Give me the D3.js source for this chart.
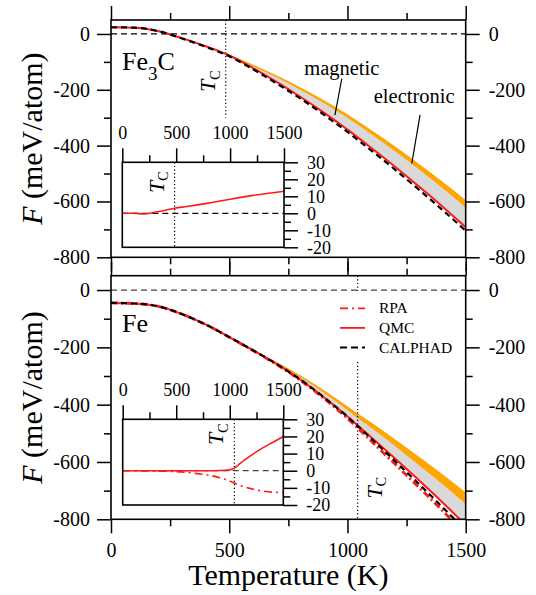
<!DOCTYPE html>
<html>
<head>
<meta charset="utf-8">
<title>Energie libre Fe3C / Fe</title>
<script src="https://cdn.jsdelivr.net/npm/d3@7"></script>
<style>
  body { margin: 0; background: white; }
  svg, svg text { font-family: "Liberation Serif", "Times New Roman", "Nimbus Roman", "DejaVu Serif", serif; }
</style>
</head>
<body>
<div class="fig"></div>
<script>
// Paramètres de la figure
const width = 536;
const height = 595;
const font = '"Liberation Serif", "Times New Roman", "Nimbus Roman", "DejaVu Serif", serif';

// Fe3C (panneau du haut), F en meV/atom
const fe3cT = [0, 100, 200, 300, 400, 485, 600, 700, 800, 900, 1000, 1100, 1200, 1300, 1400, 1500];
const fe3cCalphad = [24, 22.5, 10.3, -16, -46, -74, -126, -177, -231, -289, -351, -417, -485, -556, -629, -705];
const fe3cQmc = [24, 22.5, 10, -15, -43.8, -71, -122, -172, -225, -281.8, -342.7, -407.7, -474.6, -544.7, -616.8, -692];
const fe3cMag = [24, 22.5, 10, -15, -43.8, -71, -114, -153, -198, -245.8, -298.7, -356.7, -417.6, -481.7, -548.8, -620];
const fe3cElec = [24, 22.5, 10, -15, -43.8, -71, -112, -150, -193, -238.8, -289.7, -345.7, -403.6, -465.7, -529.8, -597];
const fe3cTc = 485;

// encart Fe3C : QMC - CALPHAD
const fe3cDiffT = [0, 100, 200, 300, 400, 485, 600, 800, 1000, 1200, 1500];
const fe3cDiffQmc = [0, 0, -0.4, 0.6, 1.8, 3, 4, 6, 8.3, 10.4, 13];

// Fe (panneau du bas)
const feT = [0, 100, 200, 300, 400, 500, 600, 700, 800, 900, 1000, 1043, 1100, 1200, 1300, 1400, 1500];
const feCalphad = [-45, -47, -57, -84, -120, -164, -210, -258, -312, -374, -442, -474, -518, -596, -675, -756, -840];
const feQmc = [-45, -47, -57, -84, -120, -164, -210, -258, -312, -373.9, -441.5, -472.5, -513.5, -587, -662, -739.5, -820];
const feRpa = [-45, -47, -57, -84.1, -120.3, -164.5, -211, -259.7, -314.5, -378, -448, -481.2, -526.7, -606.5, -686.8, -768.5, -852.7];
const feMag = [-45, -47, -57, -84, -120, -164, -210, -254, -302, -356.9, -417.5, -444.5, -478.5, -542, -608, -674.5, -745];
const feElec = [-45, -47, -57, -84, -120, -164, -210, -253, -299, -350.9, -407.5, -432.5, -463.5, -522, -582, -643.5, -708];
const feTc = 1043;

// encart Fe : QMC - CALPHAD et RPA - CALPHAD
const feDiffT = [0, 400, 500, 600, 700, 800, 900, 1000, 1043, 1100, 1200, 1300, 1400, 1500];
const feDiffQmc = [0, 0, 0, 0, 0, 0, 0.1, 0.5, 1.5, 4.5, 9, 13, 16.5, 20];
const feDiffRpa = [0, -0.3, -0.5, -1, -1.7, -2.5, -4, -6, -7.2, -8.7, -10.5, -11.8, -12.5, -12.7];

// graduations
const tickT = [0, 500, 1000, 1500];
const minorT = [250, 750, 1250];
const tickF = [0, -200, -400, -600, -800];
const minorF = [-100, -300, -500, -700];
const tickD = [30, 20, 10, 0, -10, -20];
const minorD = [25, 15, 5, -5, -15];
const legendLabels = ['RPA', 'QMC', 'CALPHAD'];

const svg = d3.select('.fig').append('svg')
  .attr('width', width)
  .attr('height', height);

const x = d3.scaleLinear().domain([0, 1500]).range([111, 465.7]);

function styleAxis(g, size) {
  g.attr('font-family', null);
  g.select('.domain').remove();
  g.selectAll('line').attr('stroke', 'black').attr('stroke-width', 1.5);
  g.selectAll('text')
    .attr('font-size', size)
    .attr('fill', 'black');
}

function lineOf(xs, sx, sy, ys) {
  return d3.line()
    .x((d, i) => sx(xs[i]))
    .y((d, i) => sy(ys[i]))
    .curve(d3.curveMonotoneX)(xs);
}

function areaOf(xs, sx, sy, lo, hi) {
  return d3.area()
    .x((d, i) => sx(xs[i]))
    .y0((d, i) => sy(lo[i]))
    .y1((d, i) => sy(hi[i]))
    .curve(d3.curveMonotoneX)(xs);
}

function addTc(g, px, py, size) {
  const t = g.append('text')
    .attr('transform', `translate(${px},${py}) rotate(-90)`)
    .attr('font-size', size);
  t.append('tspan').attr('font-style', 'italic').text('T');
  t.append('tspan').attr('font-size', size * 0.64).attr('dy', size * 0.22).text('C');
}

function drawPanel(p) {
  const y = d3.scaleLinear().domain([-800, 50]).range([p.bottom, p.top]);
  const g = svg.append('g');

  g.append('clipPath').attr('id', 'clip-' + p.id)
    .append('rect')
      .attr('x', x(0)).attr('y', p.top)
      .attr('width', x(1500) - x(0)).attr('height', p.bottom - p.top);

  const plot = g.append('g').attr('clip-path', `url(#clip-${p.id})`);

  // contribution magnétique (gris) et électronique (orange)
  plot.append('path')
    .attr('d', areaOf(p.T, x, y, p.qmc, p.mag))
    .attr('fill', '#d9d9d9');
  plot.append('path')
    .attr('d', areaOf(p.T, x, y, p.mag, p.elec))
    .attr('fill', '#ffa500')
    .attr('stroke', '#ffa500')
    .attr('stroke-width', 1);

  // ligne Tc
  plot.append('line')
    .attr('x1', x(p.tc)).attr('x2', x(p.tc))
    .attr('y1', y(50)).attr('y2', y(p.tcEnd))
    .attr('stroke', 'black').attr('stroke-width', 1.2)
    .attr('stroke-dasharray', '1.2,2.4');

  if (p.legend) {
    g.append('rect')
      .attr('x', 336).attr('y', y(10) + 4)
      .attr('width', 124).attr('height', y(-245) - y(10) - 4)
      .attr('fill', 'white');
  }

  plot.append('line')
    .attr('x1', x(0)).attr('x2', x(1500))
    .attr('y1', y(0)).attr('y2', y(0))
    .attr('stroke', p.zeroColor).attr('stroke-width', 1.3)
    .attr('stroke-dasharray', '6,4');

  if (p.rpa) {
    plot.append('path')
      .attr('d', lineOf(p.T, x, y, p.rpa))
      .attr('fill', 'none').attr('stroke', '#ff1a1a')
      .attr('stroke-width', 2.8).attr('stroke-dasharray', '7,3,2,3');
  }
  plot.append('path')
    .attr('d', lineOf(p.T, x, y, p.qmc))
    .attr('fill', 'none').attr('stroke', '#ff1a1a').attr('stroke-width', 2);
  plot.append('path')
    .attr('d', lineOf(p.T, x, y, p.calphad))
    .attr('fill', 'none').attr('stroke', 'black')
    .attr('stroke-width', 2.2).attr('stroke-dasharray', '6,4');

  g.append('rect')
    .attr('x', x(0)).attr('y', p.top)
    .attr('width', x(1500) - x(0)).attr('height', p.bottom - p.top)
    .attr('fill', 'none').attr('stroke', 'black').attr('stroke-width', 1.6);

  // axes
  const fmt = d => String(d);
  g.append('g').attr('transform', `translate(${x(0)},0)`)
    .call(d3.axisLeft(y).tickValues(tickF).tickSize(14).tickPadding(7).tickFormat(fmt))
    .call(s => styleAxis(s, 20));
  g.append('g').attr('transform', `translate(${x(0)},0)`)
    .call(d3.axisLeft(y).tickValues(minorF).tickSize(7).tickFormat(''))
    .call(s => styleAxis(s, 20));
  g.append('g').attr('transform', `translate(${x(1500)},0)`)
    .call(d3.axisRight(y).tickValues(tickF).tickSize(14).tickPadding(9).tickFormat(fmt))
    .call(s => styleAxis(s, 20));
  g.append('g').attr('transform', `translate(${x(1500)},0)`)
    .call(d3.axisRight(y).tickValues(minorF).tickSize(7).tickFormat(''))
    .call(s => styleAxis(s, 20));
  g.append('g').attr('transform', `translate(0,${p.top})`)
    .call(d3.axisTop(x).tickValues(tickT).tickSize(14).tickFormat(''))
    .call(s => styleAxis(s, 20));
  g.append('g').attr('transform', `translate(0,${p.top})`)
    .call(d3.axisTop(x).tickValues(minorT).tickSize(7).tickFormat(''))
    .call(s => styleAxis(s, 20));
  g.append('g').attr('transform', `translate(0,${p.bottom})`)
    .call(d3.axisBottom(x).tickValues(tickT).tickSize(14).tickPadding(10)
      .tickFormat(p.xLabels ? fmt : ''))
    .call(s => styleAxis(s, 20));
  g.append('g').attr('transform', `translate(0,${p.bottom})`)
    .call(d3.axisBottom(x).tickValues(minorT).tickSize(7).tickFormat(''))
    .call(s => styleAxis(s, 20));

  // titre de l'axe vertical
  g.append('text')
    .attr('transform', `translate(42,${(p.top + p.bottom) / 2}) rotate(-90)`)
    .attr('text-anchor', 'middle')
    .attr('font-size', 30)
    .call(t => {
      t.append('tspan').attr('font-style', 'italic').text('F');
      t.append('tspan').text(' (meV/atom)');
    });

  // nom du composé
  const name = g.append('text')
    .attr('x', 122).attr('y', y(p.nameF))
    .attr('font-size', 26);
  name.append('tspan').text('Fe');
  if (p.sub) {
    name.append('tspan').attr('font-size', 19).attr('dy', 10).text(p.sub);
    name.append('tspan').attr('dy', -10).text('C');
  }

  addTc(g, x(p.tc) + p.tcDx, y(p.tcLabelF), 22);

  return y;
}

function drawInset(p) {
  const ix = d3.scaleLinear().domain([0, 1500]).range([p.left, p.right]);
  const iy = d3.scaleLinear().domain([-20, 30]).range([p.bottom, p.top]);
  const g = svg.append('g');

  g.append('rect')
    .attr('x', p.left).attr('y', p.top)
    .attr('width', p.right - p.left).attr('height', p.bottom - p.top)
    .attr('fill', 'white');

  g.append('line')
    .attr('x1', ix(p.tc)).attr('x2', ix(p.tc))
    .attr('y1', p.top).attr('y2', p.bottom)
    .attr('stroke', 'black').attr('stroke-width', 1.2)
    .attr('stroke-dasharray', '1.2,2.4');

  g.append('line')
    .attr('x1', ix(0)).attr('x2', ix(1500))
    .attr('y1', iy(0)).attr('y2', iy(0))
    .attr('stroke', p.zeroColor).attr('stroke-width', 1.3)
    .attr('stroke-dasharray', '6,4');

  if (p.rpa) {
    g.append('path')
      .attr('d', lineOf(p.T, ix, iy, p.rpa))
      .attr('fill', 'none').attr('stroke', '#ff1a1a')
      .attr('stroke-width', 1.6).attr('stroke-dasharray', '8,4,2,4');
  }
  g.append('path')
    .attr('d', lineOf(p.T, ix, iy, p.qmc))
    .attr('fill', 'none').attr('stroke', '#ff1a1a').attr('stroke-width', 1.6);

  g.append('rect')
    .attr('x', p.left).attr('y', p.top)
    .attr('width', p.right - p.left).attr('height', p.bottom - p.top)
    .attr('fill', 'none').attr('stroke', 'black').attr('stroke-width', 1.6);

  const fmt = d => String(d);
  g.append('g').attr('transform', `translate(0,${p.top})`)
    .call(d3.axisTop(ix).tickValues(tickT).tickSize(14).tickPadding(9).tickFormat(fmt))
    .call(s => styleAxis(s, 18));
  g.append('g').attr('transform', `translate(0,${p.top})`)
    .call(d3.axisTop(ix).tickValues(minorT).tickSize(7).tickFormat(''))
    .call(s => styleAxis(s, 18));
  g.append('g').attr('transform', `translate(${p.right},0)`)
    .call(d3.axisRight(iy).tickValues(tickD).tickSize(14).tickPadding(9).tickFormat(fmt))
    .call(s => styleAxis(s, 18));
  g.append('g').attr('transform', `translate(${p.right},0)`)
    .call(d3.axisRight(iy).tickValues(minorD).tickSize(7).tickFormat(''))
    .call(s => styleAxis(s, 18));

  addTc(g, ix(p.tc) - 11, iy(p.tcLabelD), 22);
}

// panneau Fe3C
const yTop = drawPanel({
  id: 'fe3c', top: 20, bottom: 257.3,
  T: fe3cT, qmc: fe3cQmc, calphad: fe3cCalphad, mag: fe3cMag, elec: fe3cElec,
  tc: fe3cTc, tcEnd: -300, tcDx: -11, tcLabelF: -208,
  zeroColor: 'black', nameF: -130, sub: '3', xLabels: false
});

// annotations magnetic / electronic
const notes = [
  { text: 'magnetic', tx: 976, ty: -147, from: [976, -160], to: [947, -291] },
  { text: 'electronic', tx: 1282, ty: -249, from: [1307, -290], to: [1272, -464] }
];
notes.forEach(n => {
  svg.append('text')
    .attr('x', x(n.tx)).attr('y', yTop(n.ty))
    .attr('text-anchor', 'middle')
    .attr('font-size', 20.5)
    .text(n.text);
  svg.append('line')
    .attr('x1', x(n.from[0])).attr('y1', yTop(n.from[1]))
    .attr('x2', x(n.to[0])).attr('y2', yTop(n.to[1]))
    .attr('stroke', 'black').attr('stroke-width', 1.2);
});

drawInset({
  left: 122.3, right: 284, top: 162.3, bottom: 247.3,
  T: fe3cDiffT, qmc: fe3cDiffQmc, tc: fe3cTc, tcLabelD: 12, zeroColor: 'black'
});

// panneau Fe
const yBot = drawPanel({
  id: 'fe', top: 275.7, bottom: 519.3,
  T: feT, qmc: feQmc, calphad: feCalphad, rpa: feRpa, mag: feMag, elec: feElec,
  tc: feTc, tcEnd: -800, tcDx: 24, tcLabelF: -727,
  zeroColor: '#444', nameF: -145, sub: null, xLabels: true, legend: true
});

drawInset({
  left: 122.7, right: 283.3, top: 419.3, bottom: 505,
  T: feDiffT, qmc: feDiffQmc, rpa: feDiffRpa, tc: feTc, tcLabelD: 15, zeroColor: '#444'
});

// légende
const legendStyles = [
  { stroke: '#ff1a1a', width: 1.8, dash: '8,4,2,4' },
  { stroke: '#ff1a1a', width: 1.8, dash: null },
  { stroke: 'black', width: 2.2, dash: '7,4' }
];
const legendY = d3.scalePoint().domain(legendLabels).range([308.3, 347.5]);
const legend = svg.append('g');
legendLabels.forEach((lab, i) => {
  const s = legendStyles[i];
  legend.append('line')
    .attr('x1', 340).attr('x2', 365)
    .attr('y1', legendY(lab)).attr('y2', legendY(lab))
    .attr('stroke', s.stroke).attr('stroke-width', s.width)
    .attr('stroke-dasharray', s.dash);
  legend.append('text')
    .attr('x', 379).attr('y', legendY(lab) + 5)
    .attr('font-size', 15.5)
    .text(lab);
});

// titre de l'axe horizontal
svg.append('text')
  .attr('x', (x(0) + x(1500)) / 2).attr('y', 585)
  .attr('text-anchor', 'middle')
  .attr('font-size', 30)
  .text('Temperature (K)');
</script>
</body>
</html>
